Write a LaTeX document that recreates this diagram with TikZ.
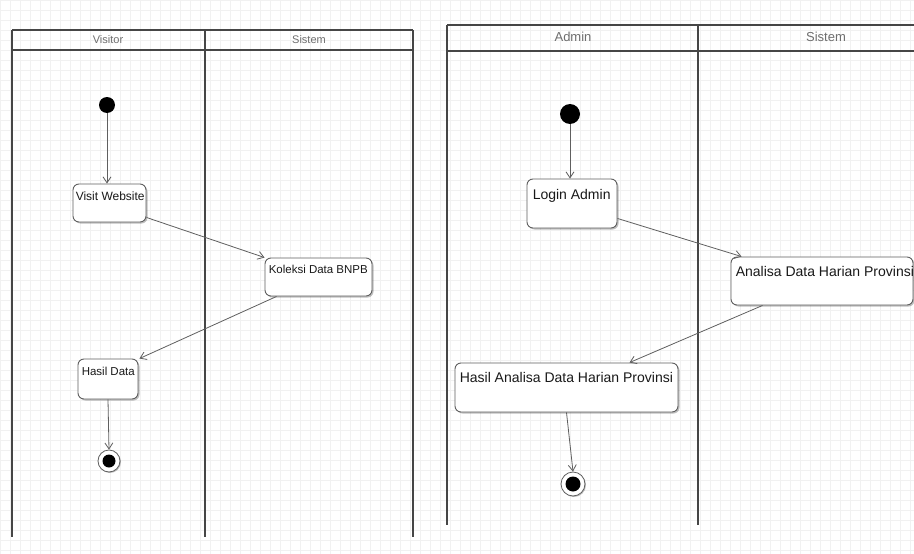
\documentclass[tikz,border=0pt]{standalone}
\usepackage{fontspec}
\setmainfont{Liberation Sans}
\usetikzlibrary{arrows.meta,calc,shadows}
\definecolor{lanec}{RGB}{70,70,70}
\definecolor{boxc}{RGB}{95,95,95}
\definecolor{gridc}{RGB}{241,241,241}
\definecolor{headc}{RGB}{110,110,110}
\tikzset{
  lane/.style={draw=lanec, line width=1.8pt},
  actbox/.style={draw=boxc, line width=0.9pt, rounded corners=6pt, fill=white, rectangle, inner sep=0pt,
     drop shadow={shadow xshift=1.5pt, shadow yshift=-1.5pt, opacity=0.25, fill=black}},
  lbl/.style={inner sep=0pt, anchor=base west, text=black!90},
  flow/.style={draw=boxc, line width=0.8pt, -{Straight Barb[length=6pt,width=8pt]}},
  startdot/.style={circle, fill=black, inner sep=0pt},
  endring/.style={circle, draw=boxc, line width=0.8pt, fill=white, inner sep=0pt,
     drop shadow={shadow xshift=1pt, shadow yshift=-1pt, opacity=0.25, fill=black}},
  enddot/.style={circle, fill=black, inner sep=0pt},
  headtxt/.style={text=headc, inner sep=0pt}
}
\begin{document}
\begin{tikzpicture}[x=1pt,y=-1pt]
\useasboundingbox (0,0) rectangle (914,554);
\fill[white] (0,0) rectangle (914,554);
\draw[gridc, line width=0.5pt, step=10pt] (0,0) grid (914,554);

% ---------- Left diagram ----------
\draw[lane] (12,30) -- (413,30);
\draw[lane] (12,50) -- (413,50);
\draw[lane] (12,30) -- (12,537);
\draw[lane] (205,30) -- (205,537);
\draw[lane] (413,30) -- (413,537);
\node[headtxt, font=\fontsize{11}{13}\selectfont] (hv) at (108,40) {Visitor};
\node[headtxt, font=\fontsize{11}{13}\selectfont] (hs1) at (309,40) {Sistem};

\node[startdot, minimum size=16pt] (s1) at (107,105) {};
\node[actbox, minimum width=73pt, minimum height=38pt] (vw) at (109.5,203) {};
\node[lbl, font=\fontsize{12}{14}\selectfont] at ($(vw.north west)+(3,17)$) {Visit Website};
\node[actbox, minimum width=107pt, minimum height=38pt] (kd) at (318.5,277) {};
\node[lbl, font=\fontsize{11.5}{14}\selectfont] at ($(kd.north west)+(4,16)$) {Koleksi Data BNPB};
\node[actbox, minimum width=60pt, minimum height=40pt] (hd) at (108,379) {};
\node[lbl, font=\fontsize{11.5}{14}\selectfont] at ($(hd.north west)+(4,17)$) {Hasil Data};
\node[endring, minimum size=22pt] (e1) at (109,461) {};
\node[enddot, minimum size=13pt] (e1i) at (e1) {};

\draw[flow] (s1) -- (s1 |- vw.north);
\draw[flow] ([yshift=5pt]vw.south east) -- (kd.north west);
\draw[flow] ([xshift=12pt]kd.south west) -- ([xshift=1pt]hd.north east);
\draw[flow] (hd.south) -- (e1.north);

% ---------- Right diagram ----------
\draw[lane] (447,25) -- (914,25);
\draw[lane] (447,51) -- (914,51);
\draw[lane] (447,25) -- (447,525);
\draw[lane] (698,25) -- (698,525);
\node[headtxt, font=\fontsize{13}{15}\selectfont] (ha) at (573,37) {Admin};
\node[headtxt, font=\fontsize{13}{15}\selectfont] (hs2) at (826,37) {Sistem};

\node[startdot, minimum size=20pt] (s2) at (570,114) {};
\node[actbox, minimum width=90pt, minimum height=49pt] (la) at (572,203.5) {};
\node[lbl, font=\fontsize{14}{16}\selectfont] at ($(la.north west)+(6,21)$) {Login Admin};
\node[actbox, minimum width=182pt, minimum height=48pt] (ad) at (822,281) {};
\node[lbl, font=\fontsize{14}{16}\selectfont] at ($(ad.north west)+(5,20)$) {Analisa Data Harian Provinsi};
\node[actbox, minimum width=223pt, minimum height=49pt] (hh) at (566.5,387.5) {};
\node[lbl, font=\fontsize{14}{16}\selectfont] at ($(hh.north west)+(5,20)$) {Hasil Analisa Data Harian Provinsi};
\node[endring, minimum size=24pt] (e2) at (573,484) {};
\node[enddot, minimum size=15pt] (e2i) at (e2) {};

\draw[flow] (s2) -- (s2 |- la.north);
\draw[flow] ([yshift=10pt]la.south east) -- ([xshift=11pt]ad.north west);
\draw[flow] ([xshift=32pt]ad.south west) -- ([xshift=63pt]hh.north);
\draw[flow] (hh.south) -- (e2.north);
\end{tikzpicture}
\end{document}
